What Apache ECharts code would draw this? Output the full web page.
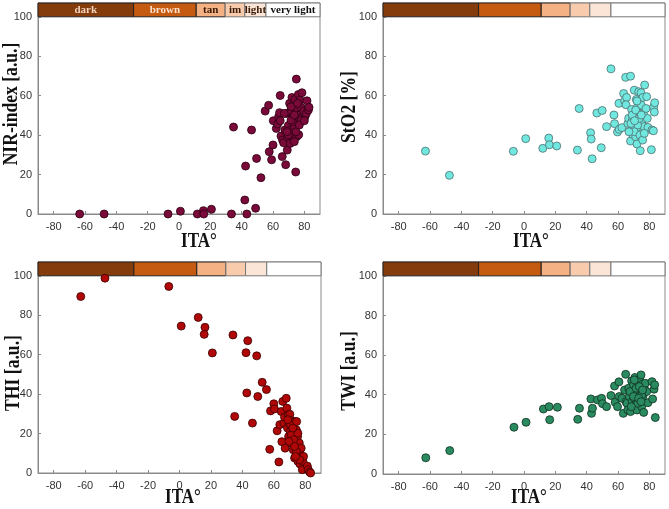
<!DOCTYPE html>
<html><head><meta charset="utf-8">
<script src="https://cdn.jsdelivr.net/npm/echarts@6/dist/echarts.min.js"></script>
<style>html,body{margin:0;padding:0;background:#fff}#c{width:669px;height:509px}</style>
</head><body><div id="c"></div>
<script>
// ---- tick labels ----
const xTicks = [-80, -60, -40, -20, 0, 20, 40, 60, 80];
const yTicks = [0, 20, 40, 60, 80, 100];

// ---- skin-type band (ITA° category edges) ----
const bandEdges = [-90, -29, 11, 29.5, 42, 55.5, 90];
const bandNames = ['dark', 'brown', 'tan', 'im', 'light', 'very light'];

// ---- NIR-index ----
const nirITA = [-63.4,-47.8,-7.0,0.9,11.7,15.6,15.8,20.7,33.5,34.8,42.0,42.5,43.3,46.3,48.9,49.5,52.3,55.0,57.2,57.6,59.1,60.0,60.2,64.6,62.1,63.0,63.6,64.2,64.6,65.1,65.9,66.1,66.8,67.6,68.1,68.5,69.1,69.3,69.8,70.4,70.6,71.0,71.7,72.1,72.3,72.7,73.2,73.6,74.0,74.5,74.9,75.1,75.5,75.7,76.2,76.4,76.8,77.2,77.9,78.5,78.9,79.6,80.4,81.3,81.7,82.6,83.0,71.5,72.5,71.0,73.6,74.7,69.8,71.5,68.9,67.2,73.6,75.7,77.9,76.8,80.0];
const nirVal = [0,0,0,1.4,0,1.7,0,2.4,0,44.1,7.1,24.3,0,42.6,2.9,28.2,18.4,52.2,55.1,31.6,27.5,35.0,47.3,60.1,43.4,45.6,49.3,51.4,47.3,39.5,29.1,37.5,36.1,42.6,25.0,51.0,32.4,38.9,44.9,42.2,56.1,51.9,40.9,59.1,37.5,49.3,54.7,44.3,58.1,21.3,68.4,39.2,47.6,52.7,60.6,40.2,50.2,57.8,54.1,61.5,49.3,52.2,49.3,51.0,57.4,52.7,54.1,54.4,46.8,35.8,36.7,41.7,40.0,47.6,41.7,51.0,50.2,56.1,47.6,45.1,47.3];

// ---- StO2 ----
const stoITA = [-62.9,-47.6,-6.8,1.1,12.0,15.8,16.2,20.9,34.1,35.2,42.5,42.9,43.5,46.5,49.3,49.9,52.7,55.5,57.4,57.8,59.7,60.6,60.8,62.5,63.6,64.2,64.9,65.5,65.1,66.3,66.8,68.0,68.0,68.7,69.1,69.3,69.8,70.4,70.8,71.3,71.7,72.1,72.5,72.7,73.2,73.4,73.8,74.2,74.7,74.9,75.3,75.5,75.9,76.2,76.6,77.0,77.9,78.3,78.7,79.1,81.3,81.7,82.8,83.2,83.4,82.6,69.1,71.3,72.5,70.4,74.0,75.7,68.3,73.6,70.6,74.9,67.0,72.1,76.8];
const stoVal = [31.9,19.6,31.8,38.2,33.3,38.5,35.1,34.5,32.4,53.5,41.2,38.0,28.0,51.2,33.6,52.5,44.3,73.6,50.2,45.8,41.6,56.1,42.9,43.8,61.1,57.4,69.3,59.1,55.4,45.9,48.5,69.9,37.0,53.0,47.6,40.4,43.4,62.8,50.5,39.2,58.1,35.5,54.4,46.8,62.0,42.6,51.0,32.1,61.5,55.2,40.9,47.6,59.1,51.0,44.3,65.4,53.5,59.5,48.5,43.9,32.6,42.6,54.4,51.7,56.4,42.2,50.2,52.7,45.1,41.7,40.0,37.5,45.9,48.5,47.3,50.2,41.7,57.3,40.9];

// ---- THI ----
const thiITA = [-62.8,-47.4,-6.8,1.1,11.9,16.2,15.7,20.9,34.0,35.1,42.3,43.4,42.8,46.4,49.1,49.8,52.6,55.3,57.4,57.9,60.0,60.4,62.1,63.2,63.8,64.7,65.1,65.7,66.4,66.8,67.2,67.9,68.3,68.7,69.1,69.4,69.8,70.2,70.4,70.9,71.3,71.7,71.9,72.3,72.8,73.2,73.6,73.8,74.3,74.7,75.1,75.3,75.7,76.2,76.6,77.0,77.4,78.1,78.5,78.9,81.3,81.9,82.8,83.4,71.1,72.6,74.3,75.3,70.6,72.1,73.2,76.4,68.9,73.8,74.5,69.6];
const thiVal = [89.5,98.8,94.6,74.5,78.9,73.9,70.3,60.9,70.0,28.7,61.0,67.1,40.6,25.3,59.4,38.8,46.0,42.3,12.0,31.5,35.1,32.5,21.4,5.6,24.5,31.2,15.9,36.3,25.3,28.3,12.6,37.9,32.9,22.8,29.5,18.5,25.3,29.8,21.1,15.2,26.6,23.6,18.0,11.8,20.2,7.6,26.1,16.0,21.9,13.0,18.5,5.9,10.1,15.2,4.6,9.3,12.6,1.7,5.9,8.4,3.5,1.7,0.5,0,19.4,16.9,11.0,20.2,24.5,22.8,13.5,6.7,27.0,8.4,26.1,16.0];

// ---- TWI ----
const twiITA = [-62.7,-47.4,-6.4,1.3,12.4,16.0,16.4,21.3,34.3,35.4,42.7,43.1,43.7,46.9,49.5,50.1,52.7,55.5,57.8,58.2,59.7,60.6,60.8,62.5,63.4,64.2,64.9,65.1,65.7,66.3,66.8,67.2,68.0,68.7,69.1,69.5,69.9,70.4,70.8,71.3,71.7,72.1,72.5,73.0,73.4,73.8,74.2,74.7,75.1,75.5,75.9,76.4,76.8,77.4,78.3,79.1,81.7,82.1,83.0,83.8,83.4,67.7,71.5,69.9,72.5,73.6,75.1,70.4,73.2,75.7,68.5,74.7];
const twiVal = [8.2,11.8,23.6,26.1,32.8,34.0,27.4,33.7,27.6,33.2,37.9,30.6,33.2,37.4,38.2,35.5,34.0,39.6,44.4,36.2,34.0,46.5,39.1,38.2,30.6,42.4,50.3,36.5,35.7,32.3,43.3,39.1,31.5,47.0,36.5,41.2,45.0,38.2,48.7,34.8,39.9,32.3,44.1,46.6,36.5,48.0,42.1,50.0,34.0,45.3,39.1,31.1,43.3,45.8,41.6,36.0,46.6,37.9,42.8,28.5,45.0,41.6,43.3,39.1,35.7,44.1,39.9,47.5,38.2,42.4,34.0,36.5];

const bandColors = ['#843C0C', '#C55A11', '#F4B183', '#F8CBAD', '#FBE5D6', '#FFFFFF'];
const bandTextColors = ['#F4D2BC', '#FBE0CC', '#3A1A05', '#3A1A05', '#3A1A05', '#111'];

function zip(a, b) { const n = Math.min(a.length, b.length); const r = []; for (let i = 0; i < n; i++) r.push([a[i], b[i]]); return r; }

const panels = [
  { grid: { left: 38, top: 3, width: 282, height: 211 }, x: nirITA, y: nirVal, color: '#7A0A3A', border: '#2a0010', yName: 'NIR-index [a.u.]', yLab: [12, 104], xLab: [199, 242], labels: true },
  { grid: { left: 383, top: 3, width: 282, height: 211 }, x: stoITA, y: stoVal, color: '#70E8E0', border: '#4f6f6f', yName: 'StO2 [%]', yLab: [350, 107], xLab: [531, 242], labels: false },
  { grid: { left: 38, top: 262, width: 283, height: 211 }, x: thiITA, y: thiVal, color: '#B00808', border: '#3a0000', yName: 'THI [a.u.]', yLab: [14, 373], xLab: [183, 498], labels: false },
  { grid: { left: 383, top: 262, width: 282, height: 212 }, x: twiITA, y: twiVal, color: '#2A8A60', border: '#10301f', yName: 'TWI [a.u.]', yLab: [350, 371], xLab: [529, 498], labels: false }
];

const option = { animation: false, backgroundColor: '#fff', grid: [], xAxis: [], yAxis: [], series: [], graphic: [] };
const axisLine = { show: true, onZero: false, lineStyle: { color: '#8a8a8a', width: 1 } };
const tickLab = { color: '#333', fontSize: 11, fontFamily: 'Liberation Sans, Arial, sans-serif' };

panels.forEach((p, i) => {
  option.grid.push(Object.assign({ show: true, borderColor: '#8a8a8a', borderWidth: 1, backgroundColor: 'transparent' }, p.grid));
  option.xAxis.push({ type: 'value', gridIndex: i, min: -90, max: 90,
    axisLine: axisLine, splitLine: { show: false },
    axisTick: { show: true, inside: true, length: 3, customValues: xTicks, lineStyle: { color: '#8a8a8a' } },
    axisLabel: Object.assign({ customValues: xTicks, margin: 7 }, tickLab) });
  option.yAxis.push({ type: 'value', gridIndex: i, min: 0, max: 107,
    axisLine: axisLine, splitLine: { show: false },
    axisTick: { show: true, inside: true, length: 3, customValues: yTicks, lineStyle: { color: '#8a8a8a' } },
    axisLabel: Object.assign({ customValues: yTicks, margin: 6 }, tickLab) });
  const areas = [];
  for (let k = 0; k < bandNames.length; k++) {
    areas.push([
      { xAxis: bandEdges[k], yAxis: 100,
        itemStyle: { color: bandColors[k], borderColor: k < 3 ? '#222' : '#777', borderWidth: 1 },
        label: { show: p.labels, position: 'inside', formatter: bandNames[k], color: bandTextColors[k],
          fontFamily: 'Liberation Serif, Times New Roman, serif', fontWeight: 'bold', fontSize: 11 } },
      { xAxis: bandEdges[k + 1], yAxis: 107 }
    ]);
  }
  option.series.push({ type: 'scatter', xAxisIndex: i, yAxisIndex: i, data: [], silent: true, z: 1,
    markArea: { silent: true, data: areas } });
  option.series.push({ type: 'scatter', xAxisIndex: i, yAxisIndex: i, z: 5,
    data: zip(p.x, p.y), symbolSize: 8,
    itemStyle: { color: p.color, borderColor: p.border, borderWidth: 0.8, opacity: 1 } });
  option.graphic.push({ type: 'text', x: p.xLab[0], y: p.xLab[1], scaleX: 0.85,
    style: { text: 'ITA°', font: 'bold 20px "Liberation Serif", "Times New Roman", serif', fill: '#111', align: 'center', verticalAlign: 'middle' } });
  option.graphic.push({ type: 'text', x: p.yLab[0], y: p.yLab[1], rotation: Math.PI / 2, scaleX: 0.88,
    style: { text: p.yName, font: 'bold 20px "Liberation Serif", "Times New Roman", serif', fill: '#111', align: 'center', verticalAlign: 'middle' } });
});

const chart = echarts.init(document.getElementById('c'), null, { renderer: 'canvas' });
chart.setOption(option);
</script>
</body></html>
